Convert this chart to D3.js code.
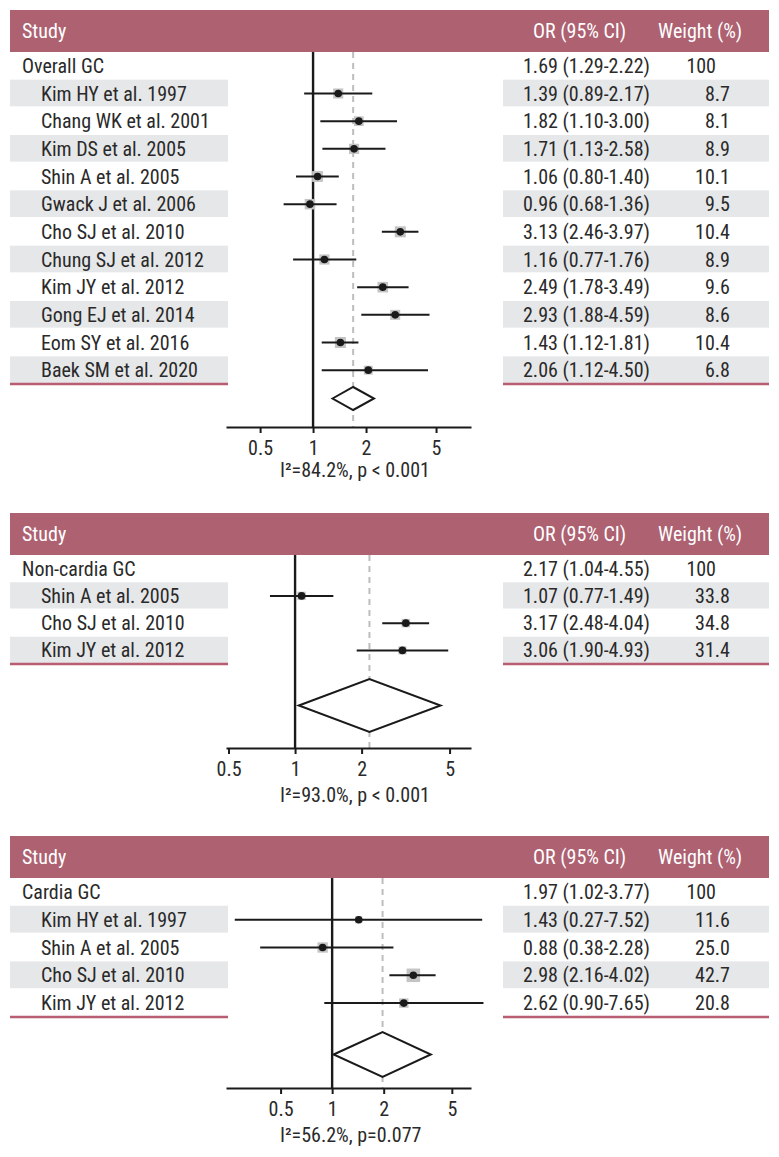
<!DOCTYPE html>
<html>
<head>
<meta charset="utf-8">
<script src="https://cdn.jsdelivr.net/npm/d3@7"></script>
<style>
  html, body { margin: 0; padding: 0; background: #fff; }
  svg text { font-family: "Liberation Sans Narrow", "Roboto Condensed", "Liberation Sans", Roboto, sans-serif; }
</style>
</head>
<body>
<svg id="chart" width="779" height="1157"></svg>
<script>
// ---------------- DATA ----------------
const headerLabels = ["Study", "OR (95% CI)", "Weight (%)"];
const tickValues = [0.5, 1, 2, 5];

// Panel 1: Overall GC
const p1Studies = ["Overall GC", "Kim HY et al. 1997", "Chang WK et al. 2001", "Kim DS et al. 2005", "Shin A et al. 2005",
  "Gwack J et al. 2006", "Cho SJ et al. 2010", "Chung SJ et al. 2012", "Kim JY et al. 2012", "Gong EJ et al. 2014",
  "Eom SY et al. 2016", "Baek SM et al. 2020"];
const p1OR = [1.69, 1.39, 1.82, 1.71, 1.06, 0.96, 3.13, 1.16, 2.49, 2.93, 1.43, 2.06];
const p1Lo = [1.29, 0.89, 1.10, 1.13, 0.80, 0.68, 2.46, 0.77, 1.78, 1.88, 1.12, 1.12];
const p1Hi = [2.22, 2.17, 3.00, 2.58, 1.40, 1.36, 3.97, 1.76, 3.49, 4.59, 1.81, 4.50];
const p1Weight = ["100", "8.7", "8.1", "8.9", "10.1", "9.5", "10.4", "8.9", "9.6", "8.6", "10.4", "6.8"];
const p1Stat = "I²=84.2%, p < 0.001";

// Panel 2: Non-cardia GC
const p2Studies = ["Non-cardia GC", "Shin A et al. 2005", "Cho SJ et al. 2010", "Kim JY et al. 2012"];
const p2OR = [2.17, 1.07, 3.17, 3.06];
const p2Lo = [1.04, 0.77, 2.48, 1.90];
const p2Hi = [4.55, 1.49, 4.04, 4.93];
const p2Weight = ["100", "33.8", "34.8", "31.4"];
const p2Stat = "I²=93.0%, p < 0.001";

// Panel 3: Cardia GC
const p3Studies = ["Cardia GC", "Kim HY et al. 1997", "Shin A et al. 2005", "Cho SJ et al. 2010", "Kim JY et al. 2012"];
const p3OR = [1.97, 1.43, 0.88, 2.98, 2.62];
const p3Lo = [1.02, 0.27, 0.38, 2.16, 0.90];
const p3Hi = [3.77, 7.52, 2.28, 4.02, 7.65];
const p3Weight = ["100", "11.6", "25.0", "42.7", "20.8"];
const p3Stat = "I²=56.2%, p=0.077";

// ---------------- STYLE / LAYOUT ----------------
const C = {
  header: "#ad6171",
  headerText: "#ffffff",
  band: "#e6e7e9",
  line: "#b95d72",
  text: "#2a2a2a",
  dash: "#bdbdbd",
  square: "#c4c4c4"
};
const FS = 20;

const panels = [
  { studies: p1Studies, or: p1OR, lo: p1Lo, hi: p1Hi, w: p1Weight, stat: p1Stat,
    top: 10, hb: 52, rowsBottom: 384, axisY: 427, dY: 398.5, dH: 11.5, statY: 470,
    domain: [0.32, 7.9], sqMax: 11 },
  { studies: p2Studies, or: p2OR, lo: p2Lo, hi: p2Hi, w: p2Weight, stat: p2Stat,
    top: 513, hb: 555, rowsBottom: 664, axisY: 748, dY: 705.5, dH: 26.5, statY: 795,
    domain: [0.487, 6.25], sqMax: 8.5 },
  { studies: p3Studies, or: p3OR, lo: p3Lo, hi: p3Hi, w: p3Weight, stat: p3Stat,
    top: 836, hb: 878, rowsBottom: 1017, axisY: 1088, dY: 1054.5, dH: 22.5, statY: 1135,
    domain: [0.24, 6.47], sqMax: 13.5 }
];

const svg = d3.select("#chart");
const plotL = 226, plotR = 471;
const leftL = 10, leftR = 228, rightL = 503, rightR = 769;

panels.forEach(p => {
  const g = svg.append("g");
  const x = d3.scaleLog().domain(p.domain).range([plotL, plotR]);
  const y = d3.scaleBand().domain(p.studies).range([p.hb, p.rowsBottom]);
  const bw = y.bandwidth();
  const cy = d => y(d) + bw / 2;
  const base = v => v + FS * 0.355;

  // header
  g.append("rect").attr("x", leftL).attr("y", p.top).attr("width", rightR - leftL).attr("height", p.hb - p.top)
    .attr("fill", C.header);
  const hc = (p.top + p.hb) / 2;
  g.append("text").attr("x", 22).attr("y", base(hc)).text(headerLabels[0])
    .attr("fill", C.headerText).attr("font-size", FS);
  g.append("text").attr("x", 533).attr("y", base(hc)).text(headerLabels[1])
    .attr("fill", C.headerText).attr("font-size", FS);
  g.append("text").attr("x", 658).attr("y", base(hc)).text(headerLabels[2])
    .attr("fill", C.headerText).attr("font-size", FS);

  // grey bands
  const banded = p.studies.filter((d, i) => i % 2 === 1);
  g.selectAll(".bandL").data(banded).join("rect")
    .attr("x", leftL).attr("y", d => y(d)).attr("width", leftR - leftL).attr("height", bw - 1)
    .attr("fill", C.band);
  g.selectAll(".bandR").data(banded).join("rect")
    .attr("x", rightL).attr("y", d => y(d)).attr("width", rightR - rightL).attr("height", bw - 1)
    .attr("fill", C.band);

  // underlines
  [[leftL, leftR], [rightL, rightR]].forEach(([a, b]) => {
    g.append("line").attr("x1", a).attr("x2", b).attr("y1", p.rowsBottom).attr("y2", p.rowsBottom)
      .attr("stroke", C.line).attr("stroke-width", 2.5);
  });

  // study labels
  g.selectAll(".lbl").data(p.studies).join("text")
    .attr("x", (d, i) => i === 0 ? 22 : 41)
    .attr("y", d => base(cy(d)))
    .attr("font-size", FS).attr("fill", C.text)
    .text(d => d);

  // OR text
  g.selectAll(".ort").data(p.studies).join("text")
    .attr("x", 523).attr("y", d => base(cy(d)))
    .attr("font-size", FS).attr("fill", C.text)
    .text((d, i) => `${p.or[i].toFixed(2)} (${p.lo[i].toFixed(2)}-${p.hi[i].toFixed(2)})`);

  // weight text
  g.selectAll(".wt").data(p.studies).join("text")
    .attr("x", (d, i) => i === 0 ? 716 : 730).attr("y", d => base(cy(d)))
    .attr("text-anchor", "end")
    .attr("font-size", FS).attr("fill", C.text)
    .text((d, i) => p.w[i]);

  // reference dashed line at pooled OR
  g.append("line").attr("x1", x(p.or[0])).attr("x2", x(p.or[0]))
    .attr("y1", p.hb).attr("y2", p.axisY)
    .attr("stroke", C.dash).attr("stroke-width", 2).attr("stroke-dasharray", "6,5");

  // null line at OR = 1
  g.append("line").attr("x1", x(1)).attr("x2", x(1))
    .attr("y1", p.hb).attr("y2", p.axisY)
    .attr("stroke", "#1a1a1a").attr("stroke-width", 2.4);

  // study marks
  const idx = d3.range(1, p.studies.length);
  const wNum = p.w.map(Number);
  const sq = d3.scaleSqrt().domain([0, d3.max(idx, i => wNum[i])]).range([0, p.sqMax]);
  g.selectAll(".sq").data(idx).join("rect")
    .attr("x", i => x(p.or[i]) - sq(wNum[i]) / 2)
    .attr("y", i => cy(p.studies[i]) - sq(wNum[i]) / 2)
    .attr("width", i => sq(wNum[i])).attr("height", i => sq(wNum[i]))
    .attr("fill", C.square);
  g.selectAll(".ci").data(idx).join("line")
    .attr("x1", i => x(p.lo[i])).attr("x2", i => x(p.hi[i]))
    .attr("y1", i => cy(p.studies[i])).attr("y2", i => cy(p.studies[i]))
    .attr("stroke", "#1a1a1a").attr("stroke-width", 2);
  g.selectAll(".pt").data(idx).join("circle")
    .attr("cx", i => x(p.or[i])).attr("cy", i => cy(p.studies[i])).attr("r", 3.8)
    .attr("fill", "#1a1a1a");

  // pooled diamond
  const dpts = [[x(p.lo[0]), p.dY], [x(p.or[0]), p.dY - p.dH], [x(p.hi[0]), p.dY], [x(p.or[0]), p.dY + p.dH]];
  g.append("path").attr("d", "M" + dpts.map(q => q.join(",")).join("L") + "Z")
    .attr("fill", "#fff").attr("stroke", "#1a1a1a").attr("stroke-width", 2);

  // axis
  const ax = g.append("g").attr("transform", `translate(0,${p.axisY})`)
    .call(d3.axisBottom(x).tickValues(tickValues).tickFormat(d3.format("")).tickSize(6).tickSizeOuter(0).tickPadding(8));
  ax.select(".domain").attr("stroke", "#1a1a1a").attr("stroke-width", 2);
  ax.selectAll(".tick line").attr("stroke", "#1a1a1a").attr("stroke-width", 2);
  ax.selectAll(".tick text").attr("font-size", FS).attr("fill", C.text)
    .attr("font-family", "'Liberation Sans Narrow', 'Roboto Condensed', 'Liberation Sans', sans-serif");

  // heterogeneity statistic
  g.append("text").attr("x", 280).attr("y", base(p.statY)).attr("font-size", FS).attr("fill", C.text)
    .text(p.stat);
});
</script>
</body>
</html>
